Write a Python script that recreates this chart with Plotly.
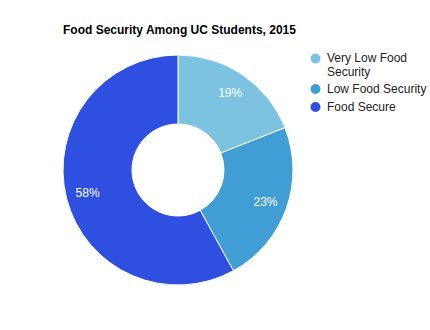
import plotly.graph_objects as go

labels = ["Very Low Food Security", "Low Food Security", "Food Secure"]
legend_lines = [["Very Low Food", "Security"], ["Low Food Security"], ["Food Secure"]]
values = [19, 23, 58]
colors = ["#7cc3e2", "#409ed4", "#2f4fe0"]

W, H = 430, 330
dom = dict(x=[63 / W, 293 / W], y=[45 / H, 275 / H])
fig = go.Figure()
fig.add_trace(go.Pie(
    labels=labels, values=values, hole=0.4, sort=False, direction="clockwise",
    rotation=0, marker=dict(colors=colors, line=dict(color="white", width=1)),
    textinfo="none", domain=dom, showlegend=False, hoverinfo="label+percent"))
# transparent overlay carrying the percentage labels slightly further out
fig.add_trace(go.Pie(
    labels=labels, values=values, hole=0.62, sort=False, direction="clockwise",
    rotation=0, marker=dict(colors=["rgba(0,0,0,0)"] * 3, line=dict(width=0)),
    textinfo="percent", textposition="inside", insidetextorientation="horizontal",
    textfont=dict(color="white", size=12, family="Liberation Sans, Arial"),
    domain=dom, showlegend=False, hoverinfo="skip"))

# custom legend with circle symbols
legend_y = [58.5, 89, 107]
line_gap = 13.5
shapes, annotations = [], []
for lines, col, y in zip(legend_lines, colors, legend_y):
    shapes.append(dict(type="circle", xref="paper", yref="paper",
                       x0=(315.5 - 5) / W, x1=(315.5 + 5) / W,
                       y0=1 - (y + 5) / H, y1=1 - (y - 5) / H,
                       fillcolor=col, line=dict(width=0)))
    for i, txt in enumerate(lines):
        annotations.append(dict(text=txt, xref="paper", yref="paper",
                                x=325 / W, y=1 - (y + i * line_gap) / H,
                                xanchor="left", yanchor="middle",
                                align="left", showarrow=False,
                                font=dict(size=12, color="#222222",
                                          family="Liberation Sans, Arial")))

fig.update_layout(
    width=W, height=H, margin=dict(l=0, r=0, t=0, b=0),
    paper_bgcolor="white", plot_bgcolor="white",
    title=dict(text="<b>Food Security Among UC Students, 2015</b>", xref="paper",
               x=63 / W, xanchor="left", y=1 - 30 / H, yanchor="middle",
               font=dict(size=12, color="#000000", family="Liberation Sans, Arial")),
    shapes=shapes, annotations=annotations, showlegend=False)

fig.write_html("out.html")
